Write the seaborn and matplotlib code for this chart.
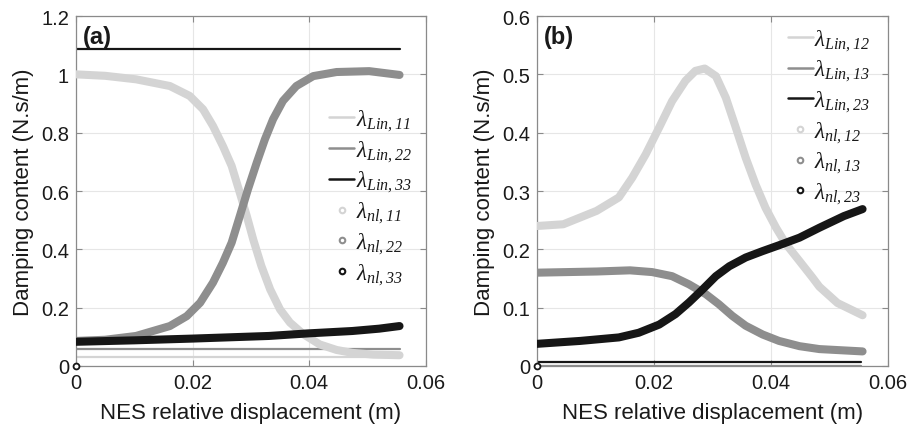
import numpy as np
import pandas as pd
import matplotlib
matplotlib.use("Agg")
import matplotlib.pyplot as plt
from matplotlib.lines import Line2D
from matplotlib.ticker import FuncFormatter
import seaborn as sns

# ---- panel (a): diagonal damping terms ----
x_nl11 = [0.0, 0.005, 0.0103, 0.0161, 0.0195, 0.0218, 0.0235, 0.0252, 0.0267, 0.0281,
          0.0293, 0.0304, 0.0318, 0.0333, 0.035, 0.0367, 0.039, 0.0418, 0.0447, 0.0474,
          0.051, 0.0555]
y_nl11 = [1.000, 0.995, 0.983, 0.960, 0.926, 0.880, 0.823, 0.754, 0.686, 0.594,
          0.514, 0.434, 0.343, 0.263, 0.194, 0.149, 0.109, 0.074, 0.055, 0.045,
          0.039, 0.037]

x_nl22 = [0.0, 0.005, 0.0103, 0.0161, 0.019, 0.0213, 0.0235, 0.0252, 0.0267, 0.0281,
          0.0295, 0.031, 0.0324, 0.0338, 0.0355, 0.0378, 0.0407, 0.0447, 0.0503, 0.0555]
y_nl22 = [0.086, 0.090, 0.103, 0.137, 0.171, 0.217, 0.286, 0.354, 0.423, 0.514,
          0.606, 0.697, 0.777, 0.846, 0.909, 0.960, 0.994, 1.008, 1.011, 0.998]

x_nl33 = [0.0, 0.010, 0.020, 0.0331, 0.040, 0.0474, 0.052, 0.0555]
y_nl33 = [0.083, 0.088, 0.094, 0.103, 0.112, 0.120, 0.128, 0.137]

lin_a = {"Lin,11": 0.031, "Lin,22": 0.057, "Lin,33": 1.087}

# ---- panel (b): coupling damping terms ----
x_nl12 = [0.0, 0.0045, 0.0102, 0.014, 0.0163, 0.0186, 0.0209, 0.0231, 0.0254, 0.0271,
          0.0287, 0.0306, 0.0323, 0.034, 0.0357, 0.0374, 0.0391, 0.0409, 0.0426, 0.0449,
          0.0471, 0.0483, 0.0514, 0.0557]
y_nl12 = [0.240, 0.243, 0.266, 0.289, 0.323, 0.363, 0.409, 0.454, 0.489, 0.506,
          0.510, 0.497, 0.460, 0.409, 0.357, 0.311, 0.271, 0.237, 0.209, 0.180,
          0.152, 0.136, 0.108, 0.087]

x_nl13 = [0.0, 0.0102, 0.0159, 0.0197, 0.0231, 0.026, 0.0289, 0.0311, 0.0334, 0.0357,
          0.0386, 0.0414, 0.0449, 0.0483, 0.052, 0.0557]
y_nl13 = [0.160, 0.162, 0.164, 0.161, 0.154, 0.140, 0.123, 0.106, 0.086, 0.069,
          0.054, 0.043, 0.034, 0.029, 0.027, 0.025]

x_nl23 = [0.0, 0.0074, 0.014, 0.0174, 0.0209, 0.0237, 0.026, 0.0283, 0.0306, 0.0329,
          0.0357, 0.0386, 0.0414, 0.0449, 0.0483, 0.0525, 0.0557]
y_nl23 = [0.038, 0.043, 0.049, 0.057, 0.071, 0.089, 0.109, 0.131, 0.154, 0.171,
          0.186, 0.197, 0.207, 0.220, 0.237, 0.257, 0.269]

lin_b = {"Lin,12": 0.0, "Lin,13": 0.0, "Lin,23": 0.007}

# first sample of the nonlinear estimate sits at the origin
origin_x = [0.0]
origin_y = [0.0]

x_end = 0.0555
x_ticks = [0, 0.02, 0.04, 0.06]
yticks_a = [0, 0.2, 0.4, 0.6, 0.8, 1.0, 1.2]
yticks_b = [0, 0.1, 0.2, 0.3, 0.4, 0.5, 0.6]

LIGHT = "#d4d4d4"
MID = "#8e8e8e"
DARK = "#161616"
shades = [LIGHT, MID, DARK]

sns.set_theme(style="white")
plt.rcParams["font.family"] = ["Liberation Sans", "DejaVu Sans"]
# legend symbols in a Times-like italic face, digits included
plt.rcParams["mathtext.fontset"] = "custom"
plt.rcParams["mathtext.it"] = "Liberation Serif:italic"
plt.rcParams["mathtext.rm"] = "Liberation Serif:italic"
plt.rcParams["mathtext.default"] = "it"

fig = plt.figure(figsize=(9.18, 4.31), dpi=100)
axA = fig.add_axes([0.0828, 0.1485, 0.381, 0.812])
axB = fig.add_axes([0.585, 0.1485, 0.382, 0.812])


def sym(name):
    return r"$\lambda_{\mathit{%s}}$" % name


def draw_panel(ax, nl_series, lin_vals, nl_tags, yticks, tag, leg_anchor):
    handles = []
    # linear (constant) terms
    for (name, val), c in zip(lin_vals.items(), shades):
        d = pd.DataFrame({"x": [0.0, x_end], "y": [val, val]})
        sns.lineplot(data=d, x="x", y="y", ax=ax, color=c, lw=1.6, zorder=2)
        handles.append(Line2D([], [], color=c, lw=1.8, label=sym(name)))
    # nonlinear estimates, drawn as thick traces
    for (xs, ys), c in zip(nl_series, shades):
        d = pd.DataFrame({"x": xs, "y": ys})
        sns.lineplot(data=d, x="x", y="y", ax=ax, color=c, lw=5.8, zorder=3,
                     solid_capstyle="round", solid_joinstyle="round")
    for name, c in zip(nl_tags, shades):
        handles.append(Line2D([], [], color=c, ls="none", marker="o", markersize=4,
                              markerfacecolor="white", markeredgewidth=1.5,
                              label=sym(name)))
    sns.scatterplot(x=origin_x, y=origin_y, ax=ax, marker="o", s=18,
                    facecolor="white", edgecolor=DARK, linewidth=1.3,
                    zorder=6, clip_on=False)

    ax.set_xlim(0, 0.06)
    ax.set_ylim(yticks[0], yticks[-1])
    ax.set_xticks(x_ticks)
    ax.set_yticks(yticks)
    fmt = FuncFormatter(lambda v, p: ("%g" % round(v, 3)))
    ax.xaxis.set_major_formatter(fmt)
    ax.yaxis.set_major_formatter(fmt)
    ax.grid(True, color="#e6e6e6", lw=0.8)
    ax.set_axisbelow(True)
    for s in ax.spines.values():
        s.set_color("#8a8a8a")
        s.set_linewidth(0.9)
    ax.tick_params(direction="in", length=4, width=0.8, color="#8a8a8a",
                   labelsize=14.5, labelcolor="#1a1a1a", top=True, right=True,
                   bottom=True, left=True, pad=5)
    ax.set_xlabel("NES relative displacement (m)", fontsize=16, color="#1a1a1a",
                  labelpad=7)
    ax.set_ylabel("Damping content (N.s/m)", fontsize=16, color="#1a1a1a",
                  labelpad=5)
    ax.text(0.02, 0.975, tag, transform=ax.transAxes, fontsize=17,
            fontweight="bold", va="top", ha="left", color="#1a1a1a")
    leg = ax.legend(handles=handles, loc="upper right", bbox_to_anchor=leg_anchor,
                    frameon=False, fontsize=16.5, handlelength=1.1,
                    handletextpad=0.05, labelspacing=0.22, borderaxespad=0)
    for t in leg.get_texts():
        t.set_color("#1a1a1a")


draw_panel(axA, [(x_nl11, y_nl11), (x_nl22, y_nl22), (x_nl33, y_nl33)], lin_a,
           ["nl,11", "nl,22", "nl,33"], yticks_a, "(a)", (0.985, 0.765))
draw_panel(axB, [(x_nl12, y_nl12), (x_nl13, y_nl13), (x_nl23, y_nl23)], lin_b,
           ["nl,12", "nl,13", "nl,23"], yticks_b, "(b)", (0.975, 0.995))

fig.savefig("out.png", dpi=100)
